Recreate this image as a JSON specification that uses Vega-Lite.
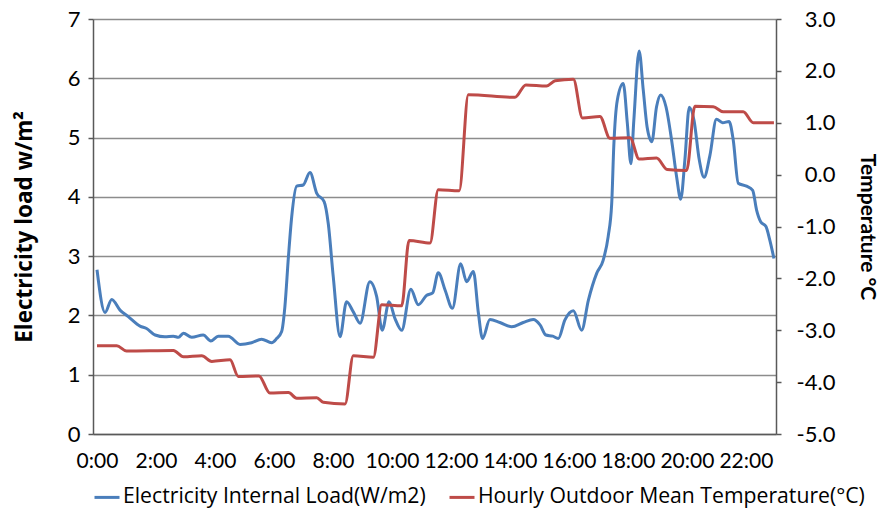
{
  "$schema": "https://vega.github.io/schema/vega-lite/v6.json",
  "width": 683,
  "height": 415,
  "autosize": {"type": "none"},
  "padding": {"left": 93, "top": 19, "right": 105, "bottom": 79},
  "background": "white",
  "config": {
    "font": "Lato",
    "view": {"stroke": null},
    "axis": {"labelColor": "#000000", "titleColor": "#000000", "domainColor": "#595959", "domainWidth": 1.5, "tickColor": "#595959", "tickWidth": 1.5}
  },
  "datasets": {
    "load": [
      {"h": 0, "v": 2.77}, {"h": 0.27, "v": 2.05}, {"h": 0.5, "v": 2.27}, {"h": 0.78, "v": 2.09},
      {"h": 1.06, "v": 1.98}, {"h": 1.46, "v": 1.82}, {"h": 1.68, "v": 1.78}, {"h": 1.97, "v": 1.67},
      {"h": 2.3, "v": 1.64}, {"h": 2.59, "v": 1.65}, {"h": 2.76, "v": 1.63}, {"h": 2.93, "v": 1.7},
      {"h": 3.21, "v": 1.63}, {"h": 3.6, "v": 1.67}, {"h": 3.86, "v": 1.57}, {"h": 4.11, "v": 1.65},
      {"h": 4.45, "v": 1.65}, {"h": 4.85, "v": 1.51}, {"h": 5.24, "v": 1.54}, {"h": 5.58, "v": 1.6},
      {"h": 5.92, "v": 1.54}, {"h": 6.09, "v": 1.61}, {"h": 6.26, "v": 1.73}, {"h": 6.37, "v": 2.15},
      {"h": 6.49, "v": 2.99}, {"h": 6.6, "v": 3.66}, {"h": 6.77, "v": 4.18}, {"h": 6.99, "v": 4.2},
      {"h": 7.22, "v": 4.41}, {"h": 7.45, "v": 4.06}, {"h": 7.7, "v": 3.92}, {"h": 7.84, "v": 3.55},
      {"h": 8.01, "v": 2.65}, {"h": 8.24, "v": 1.64}, {"h": 8.46, "v": 2.23}, {"h": 8.69, "v": 2.06},
      {"h": 8.92, "v": 1.87}, {"h": 9.25, "v": 2.57}, {"h": 9.48, "v": 2.32}, {"h": 9.67, "v": 1.75},
      {"h": 9.9, "v": 2.23}, {"h": 10.1, "v": 1.95}, {"h": 10.33, "v": 1.75}, {"h": 10.64, "v": 2.44},
      {"h": 10.89, "v": 2.18}, {"h": 11.18, "v": 2.34}, {"h": 11.38, "v": 2.38}, {"h": 11.57, "v": 2.72},
      {"h": 11.8, "v": 2.43}, {"h": 12.05, "v": 2.12}, {"h": 12.33, "v": 2.87}, {"h": 12.53, "v": 2.57},
      {"h": 12.76, "v": 2.74}, {"h": 12.93, "v": 2.04}, {"h": 13.07, "v": 1.61}, {"h": 13.32, "v": 1.93},
      {"h": 13.66, "v": 1.88}, {"h": 14.06, "v": 1.81}, {"h": 14.45, "v": 1.88}, {"h": 14.79, "v": 1.93},
      {"h": 15.02, "v": 1.84}, {"h": 15.22, "v": 1.67}, {"h": 15.45, "v": 1.65}, {"h": 15.64, "v": 1.61},
      {"h": 15.86, "v": 1.92}, {"h": 16.15, "v": 2.08}, {"h": 16.43, "v": 1.75}, {"h": 16.66, "v": 2.26},
      {"h": 16.94, "v": 2.71}, {"h": 17.16, "v": 2.93}, {"h": 17.33, "v": 3.33}, {"h": 17.45, "v": 3.89},
      {"h": 17.52, "v": 4.85}, {"h": 17.64, "v": 5.63}, {"h": 17.84, "v": 5.91}, {"h": 17.98, "v": 5.24},
      {"h": 18.1, "v": 4.56}, {"h": 18.2, "v": 5.29}, {"h": 18.38, "v": 6.46}, {"h": 18.52, "v": 5.8},
      {"h": 18.65, "v": 5.18}, {"h": 18.81, "v": 4.93}, {"h": 18.97, "v": 5.52}, {"h": 19.11, "v": 5.72},
      {"h": 19.29, "v": 5.52}, {"h": 19.48, "v": 4.96}, {"h": 19.65, "v": 4.34}, {"h": 19.79, "v": 3.96},
      {"h": 19.93, "v": 4.62}, {"h": 20.08, "v": 5.51}, {"h": 20.24, "v": 5.29}, {"h": 20.42, "v": 4.62},
      {"h": 20.58, "v": 4.33}, {"h": 20.78, "v": 4.7}, {"h": 21.0, "v": 5.31}, {"h": 21.21, "v": 5.25},
      {"h": 21.43, "v": 5.27}, {"h": 21.57, "v": 4.96}, {"h": 21.74, "v": 4.23}, {"h": 22.02, "v": 4.18},
      {"h": 22.23, "v": 4.11}, {"h": 22.36, "v": 3.78}, {"h": 22.5, "v": 3.58}, {"h": 22.68, "v": 3.5},
      {"h": 22.81, "v": 3.27}, {"h": 22.95, "v": 2.96}
    ],
    "temp": [
      {"h": 0, "t": -3.3}, {"h": 0.67, "t": -3.3}, {"h": 1.0, "t": -3.4}, {"h": 2.59, "t": -3.39},
      {"h": 2.93, "t": -3.51}, {"h": 3.55, "t": -3.49}, {"h": 3.89, "t": -3.6}, {"h": 4.51, "t": -3.57},
      {"h": 4.79, "t": -3.89}, {"h": 5.49, "t": -3.88}, {"h": 5.86, "t": -4.21}, {"h": 6.49, "t": -4.2},
      {"h": 6.77, "t": -4.31}, {"h": 7.45, "t": -4.3}, {"h": 7.67, "t": -4.39}, {"h": 8.41, "t": -4.42},
      {"h": 8.69, "t": -3.49}, {"h": 9.37, "t": -3.52}, {"h": 9.65, "t": -2.51}, {"h": 10.33, "t": -2.53},
      {"h": 10.58, "t": -1.27}, {"h": 11.29, "t": -1.32}, {"h": 11.57, "t": -0.29}, {"h": 12.28, "t": -0.31},
      {"h": 12.59, "t": 1.54}, {"h": 14.17, "t": 1.49}, {"h": 14.54, "t": 1.73}, {"h": 15.24, "t": 1.71},
      {"h": 15.53, "t": 1.81}, {"h": 16.15, "t": 1.84}, {"h": 16.46, "t": 1.09}, {"h": 17.05, "t": 1.12},
      {"h": 17.39, "t": 0.7}, {"h": 18.07, "t": 0.71}, {"h": 18.38, "t": 0.3}, {"h": 18.97, "t": 0.32},
      {"h": 19.33, "t": 0.1}, {"h": 19.99, "t": 0.08}, {"h": 20.27, "t": 1.32}, {"h": 20.89, "t": 1.31},
      {"h": 21.23, "t": 1.21}, {"h": 21.91, "t": 1.21}, {"h": 22.25, "t": 1.0}, {"h": 22.95, "t": 1.0}
    ]
  },
  "encoding": {
    "x": {
      "field": "h",
      "type": "quantitative",
      "scale": {"domain": [-0.136, 23.02], "nice": false, "zero": false},
      "axis": {
        "title": null,
        "values": [0, 2, 4, 6, 8, 10, 12, 14, 16, 18, 20, 22],
        "labelExpr": "datum.value + ':00'",
        "grid": false,
        "ticks": false,
        "labelFontSize": 21,
        "labelPadding": 16,
        "labelFlush": false,
        "labelOverlap": false
      }
    }
  },
  "layer": [
    {
      "data": {"name": "load"},
      "mark": {"type": "line", "interpolate": "monotone", "strokeWidth": 3},
      "encoding": {
        "y": {
          "field": "v",
          "type": "quantitative",
          "scale": {"domain": [0, 7], "nice": false},
          "axis": {
            "orient": "left",
            "title": "Electricity load w/m²",
            "titleFont": "Open Sans",
            "titleFontSize": 22.5,
            "titleFontWeight": "bold",
            "titlePadding": 31,
            "values": [0, 1, 2, 3, 4, 5, 6, 7],
            "format": "d",
            "labelFontSize": 22,
            "labelPadding": 8,
            "tickSize": 5,
            "grid": true,
            "gridColor": "#8c8c8c",
            "gridWidth": 1.4
          }
        },
        "color": {
          "datum": "Electricity Internal Load(W/m2)",
          "type": "nominal",
          "scale": {
            "domain": ["Electricity Internal Load(W/m2)", "Hourly Outdoor Mean Temperature(°C)"],
            "range": ["#4A7EBB", "#BE4B48"]
          },
          "legend": {
            "orient": "bottom",
            "direction": "horizontal",
            "title": null,
            "symbolType": "stroke",
            "symbolSize": 625,
            "symbolStrokeWidth": 3,
            "labelFont": "Open Sans",
            "labelFontSize": 21.2,
            "labelLimit": 0,
            "labelColor": "#000000",
            "columnPadding": 17,
            "labelOffset": 2,
            "offset": 12,
            "padding": 0
          }
        }
      }
    },
    {
      "data": {"name": "temp"},
      "mark": {"type": "line", "interpolate": "monotone", "strokeWidth": 3},
      "encoding": {
        "y": {
          "field": "t",
          "type": "quantitative",
          "scale": {"domain": [-5, 3], "nice": false, "zero": false},
          "axis": {
            "orient": "right",
            "title": "Temperature °C",
            "titleFontSize": 21,
            "titleFontWeight": "bold",
            "titlePadding": 21,
            "values": [-5, -4, -3, -2, -1, 0, 1, 2, 3],
            "labelExpr": "replace(format(datum.value, '.1f'), '−', '-')",
            "labelFontSize": 22,
            "labelAlign": "right",
            "labelPadding": 54,
            "tickSize": 5,
            "grid": false
          }
        },
        "color": {"datum": "Hourly Outdoor Mean Temperature(°C)", "type": "nominal"}
      }
    }
  ],
  "resolve": {"scale": {"y": "independent"}}
}
